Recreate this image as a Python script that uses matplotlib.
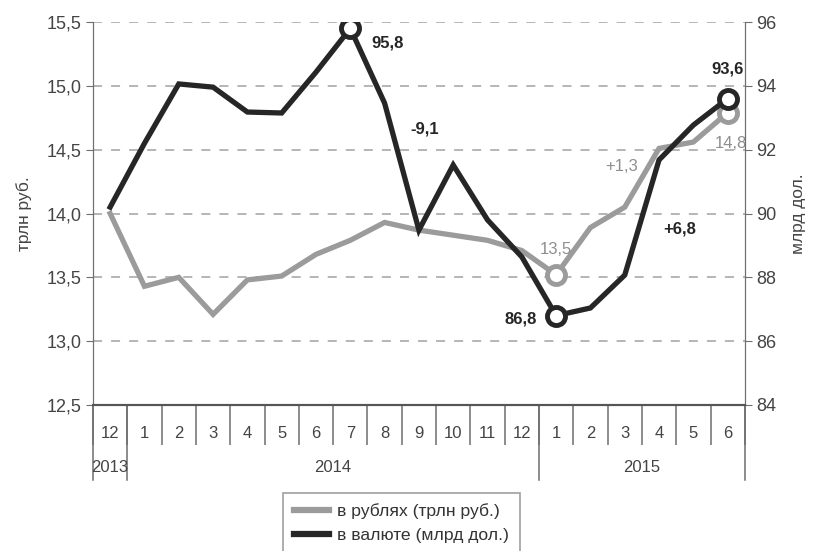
import matplotlib
matplotlib.use("Agg")
import matplotlib.pyplot as plt
import matplotlib.transforms as mtransforms
from matplotlib.ticker import FuncFormatter
from matplotlib.lines import Line2D

plt.rcParams['font.family'] = ['Liberation Sans', 'DejaVu Sans']

# Data
months = ['12', '1', '2', '3', '4', '5', '6', '7', '8', '9', '10', '11', '12',
          '1', '2', '3', '4', '5', '6']
years = ['2013', '2014', '2015']
year_bounds = [0, 1, 13, 19]
rub = [14.00, 13.43, 13.50, 13.21, 13.48, 13.51, 13.68, 13.79, 13.93, 13.87,
       13.83, 13.79, 13.71, 13.52, 13.89, 14.05, 14.51, 14.56, 14.79]
usd = [90.2, 92.2, 94.06, 93.96, 93.18, 93.15, 94.43, 95.8, 93.46, 89.48,
       91.52, 89.8, 88.64, 86.8, 87.04, 88.07, 91.68, 92.77, 93.6]
rub_marked = [13, 18]
usd_marked = [7, 13, 18]

gray = '#9b9b9b'
dark = '#262626'
axcol = '#6e6e6e'

fig = plt.figure(figsize=(8.23, 5.51), dpi=100)
ax = fig.add_axes([0.113, 0.265, 0.792, 0.695])
ax2 = ax.twinx()

xs = [i + 0.5 for i in range(len(months))]

ax.set_xlim(0, len(months))
ax.set_ylim(12.5, 15.5)
ax2.set_ylim(84, 96)
ax.set_yticks([12.5, 13.0, 13.5, 14.0, 14.5, 15.0, 15.5])
ax2.set_yticks([84, 86, 88, 90, 92, 94, 96])
ax.yaxis.set_major_formatter(FuncFormatter(lambda v, p: ('%.1f' % v).replace('.', ',')))
ax2.yaxis.set_major_formatter(FuncFormatter(lambda v, p: '%d' % v))

# grid
for v in [13.0, 13.5, 14.0, 14.5, 15.0, 15.5]:
    ax.axhline(v, color='#b0b0b0', lw=1.3, ls=(0, (5, 5)), zorder=0)

# lines
ax.plot(xs, rub, color=gray, lw=3.8, solid_joinstyle='miter', zorder=3)
ax.plot([xs[i] for i in rub_marked], [rub[i] for i in rub_marked], 'o', ms=13,
        mfc='white', mec=gray, mew=3.5, zorder=4)
ax2.plot(xs, usd, color=dark, lw=3.8, solid_joinstyle='miter', zorder=5)
ax2.plot([xs[i] for i in usd_marked], [usd[i] for i in usd_marked], 'o', ms=13,
         mfc='white', mec=dark, mew=3.5, zorder=6)

# spines
for a in (ax, ax2):
    a.spines['top'].set_visible(False)
    a.spines['left'].set_color(axcol)
    a.spines['right'].set_color(axcol)
    a.spines['bottom'].set_color('#555555')
    a.spines['bottom'].set_linewidth(1.5)
ax.tick_params(axis='y', colors=axcol, labelcolor='#444444', labelsize=13, length=5)
ax2.tick_params(axis='y', colors=axcol, labelcolor='#444444', labelsize=13, length=5)

# category axis: month boundaries and labels
ax.set_xticks(range(len(months) + 1))
ax.set_xticklabels([])
ax.tick_params(axis='x', which='major', direction='out', length=29, width=1.1, colors=axcol)
ax.set_xticks(xs, minor=True)
ax.set_xticklabels(months, minor=True)
ax.tick_params(axis='x', which='minor', length=0, pad=15, labelsize=12, labelcolor='#444444')

trans = mtransforms.blended_transform_factory(ax.transData, ax.transAxes)
for b in year_bounds:
    ax.plot([b, b], [0, -0.197], color=axcol, lw=1.1, transform=trans, clip_on=False)
for k, yr in enumerate(years):
    mid = (year_bounds[k] + year_bounds[k + 1]) / 2
    ax.text(mid, -0.162, yr, transform=trans, ha='center', va='center',
            fontsize=12, color='#444444')

ax.set_ylabel('трлн руб.', fontsize=12.5, color='#444444', labelpad=10)
ax2.set_ylabel('млрд дол.', fontsize=12.5, color='#444444', labelpad=10)

# annotations
bold = dict(fontsize=12, fontweight='bold', color=dark)
ax2.text(xs[7] + 0.6, usd[7] - 0.45, '95,8', ha='left', va='center', **bold)
ax2.text(xs[9] - 0.25, 92.65, '-9,1', ha='left', va='center', **bold)
ax2.text(xs[18], usd[18] + 0.7, '93,6', ha='center', va='bottom', **bold)
ax2.text(xs[13] - 0.55, usd[13] - 0.1, '86,8', ha='right', va='center', **bold)
ax2.text(xs[16] + 0.6, 89.5, '+6,8', ha='center', va='center', **bold)
reg = dict(fontsize=12, color='#8e8e8e')
ax.text(xs[13], rub[13] + 0.14, '13,5', ha='center', va='bottom', **reg)
ax.text(xs[15] - 0.1, 14.37, '+1,3', ha='center', va='center', **reg)
ax.text(xs[18] + 0.1, 14.55, '14,8', ha='center', va='center', **reg)

# legend
handles = [Line2D([], [], color=gray, lw=4.5), Line2D([], [], color=dark, lw=4.5)]
leg = fig.legend(handles, ['в рублях (трлн руб.)', 'в валюте (млрд дол.)'],
                 loc='upper left', bbox_to_anchor=(0.344, 0.106), borderaxespad=0,
                 fontsize=12.6, frameon=True, fancybox=False, handlelength=2.0,
                 handletextpad=0.5, borderpad=0.6, labelspacing=0.5)
leg.get_frame().set_edgecolor('#888888')
leg.get_frame().set_linewidth(1.2)
for t in leg.get_texts():
    t.set_color('#333333')

fig.savefig('out.png', dpi=100)
